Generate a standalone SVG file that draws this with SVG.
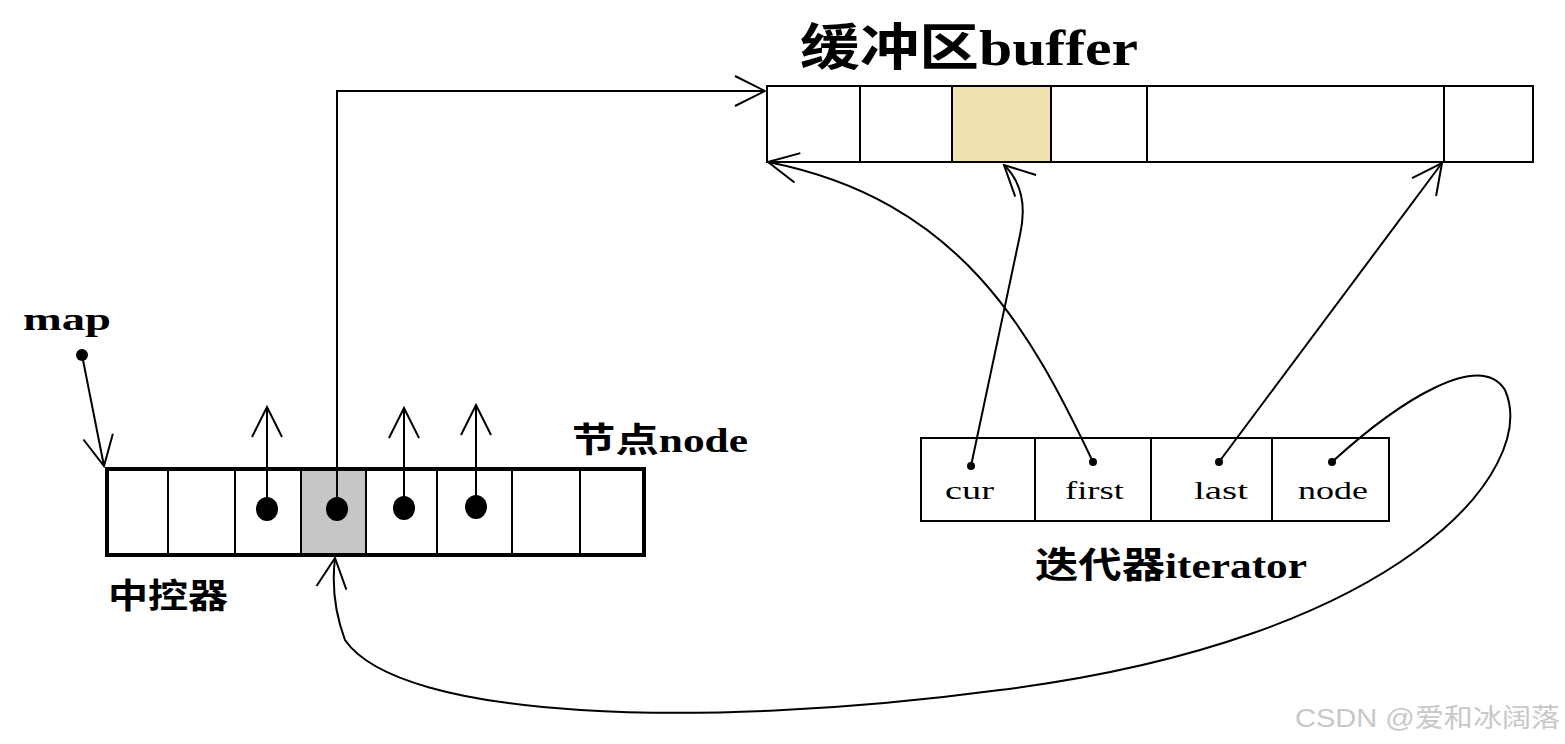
<svg xmlns="http://www.w3.org/2000/svg" width="1565" height="744" viewBox="0 0 1565 744">
<style>
.t{font-family:"Liberation Serif","Noto Sans CJK SC",serif;font-weight:bold;fill:#000}
.n{font-family:"Liberation Serif",serif;fill:#000;font-size:26px}
.c{fill:none;stroke:#000;stroke-width:2}
.b{fill:#fff;stroke:#000;stroke-width:2}
.d{fill:#000}
</style>
<defs>
<marker id="a" markerWidth="36" markerHeight="36" refX="34" refY="18" orient="auto" markerUnits="userSpaceOnUse">
<path d="M4,3 L34,18 L4,33" fill="none" stroke="#000" stroke-width="2"/>
</marker>
</defs>
<rect width="1565" height="744" fill="#fff"/>
<g id="buffer">
<rect x="767" y="86" width="766" height="76" class="b"/>
<rect x="952" y="86" width="99" height="76" fill="#f0e2b0" stroke="#000" stroke-width="2"/>
<path d="M860,86V162M1147,86V162M1444,86V162" class="c"/>
<text x="800" y="65" class="t" font-size="50" textLength="338" lengthAdjust="spacingAndGlyphs">缓冲区buffer</text>
</g>
<g id="map">
<rect x="107" y="469" width="537" height="86" fill="#fff" stroke="#000" stroke-width="4"/>
<rect x="301" y="471" width="65" height="82" fill="#c6c6c6"/>
<path d="M168,469V555M235,469V555M301,469V555M366,469V555M437,469V555M512,469V555M580,469V555" class="c"/>
<ellipse cx="267" cy="509" rx="11" ry="12" class="d"/>
<ellipse cx="337" cy="509" rx="11" ry="12" class="d"/>
<ellipse cx="404" cy="508" rx="11" ry="12" class="d"/>
<ellipse cx="476" cy="507" rx="11" ry="12" class="d"/>
<text x="23" y="330" class="t" font-size="32" textLength="88" lengthAdjust="spacingAndGlyphs">map</text>
<text x="572" y="452" class="t" font-size="34" textLength="176" lengthAdjust="spacingAndGlyphs">节点node</text>
<text x="108" y="608" class="t" font-size="34" textLength="120" lengthAdjust="spacingAndGlyphs">中控器</text>
</g>
<g id="iterator">
<rect x="921" y="438" width="468" height="83" class="b"/>
<path d="M1035,438V521M1151,438V521M1272,438V521" class="c"/>
<text x="945" y="499" class="n" textLength="49" lengthAdjust="spacingAndGlyphs">cur</text>
<text x="1065" y="499" class="n" textLength="59" lengthAdjust="spacingAndGlyphs">first</text>
<text x="1194" y="499" class="n" textLength="54" lengthAdjust="spacingAndGlyphs">last</text>
<text x="1298" y="499" class="n" textLength="70" lengthAdjust="spacingAndGlyphs">node</text>
<circle cx="971" cy="466" r="4" class="d"/>
<circle cx="1093" cy="462" r="4" class="d"/>
<circle cx="1219" cy="462" r="4" class="d"/>
<circle cx="1332" cy="462" r="4" class="d"/>
<text x="1035" y="578" class="t" font-size="36" textLength="272" lengthAdjust="spacingAndGlyphs">迭代器iterator</text>
</g>
<g id="connectors">
<circle cx="82" cy="355" r="6" class="d"/>
<path d="M82,355L104,466" class="c" marker-end="url(#a)"/>
<path d="M337,509V91H765" class="c" marker-end="url(#a)"/>
<path d="M267,509V407" class="c" marker-end="url(#a)"/>
<path d="M404,508V408" class="c" marker-end="url(#a)"/>
<path d="M476,507V405" class="c" marker-end="url(#a)"/>
<path d="M971,466L1020,235Q1030,190 1004,165" class="c" marker-end="url(#a)"/>
<path d="M1093,462C1030,330 960,200 768,162" class="c" marker-end="url(#a)"/>
<path d="M1219,462L1442,163" class="c" marker-end="url(#a)"/>
<path d="M1332,462C1400,400 1480,350 1505,390C1540,470 1400,640 1000,690C700,730 400,720 345,640Q330,600 335,558" class="c" marker-end="url(#a)"/>
</g>
<text x="1295" y="727" font-family="Liberation Sans,Noto Sans CJK SC,sans-serif" font-size="26" fill="#c8c8c8" textLength="265" lengthAdjust="spacingAndGlyphs">CSDN @爱和冰阔落</text>
</svg>
